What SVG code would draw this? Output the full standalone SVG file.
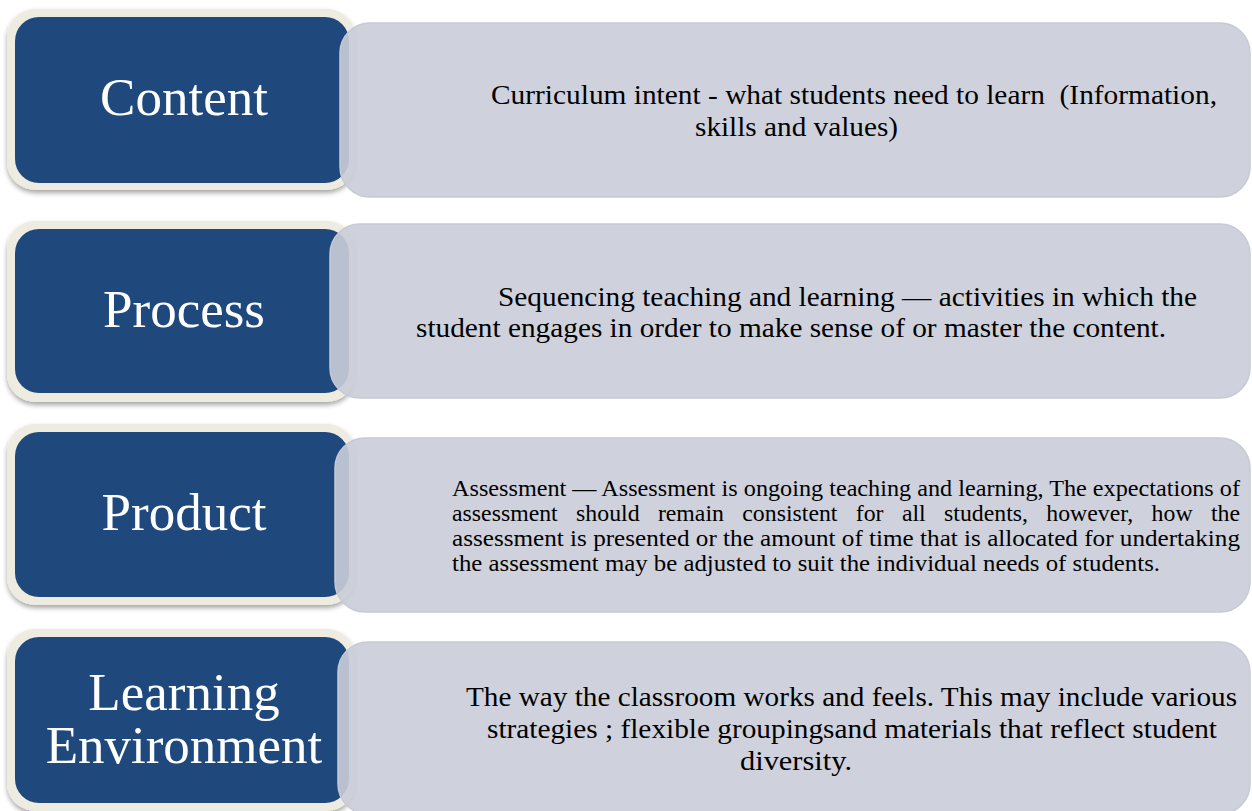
<svg xmlns="http://www.w3.org/2000/svg" width="1252" height="811" viewBox="0 0 1252 811">
<defs>
<filter id="sh" x="-10%" y="-10%" width="120%" height="130%">
<feDropShadow dx="0" dy="3" stdDeviation="2.5" flood-color="#000" flood-opacity="0.35"/>
</filter>
<style>
.cream{fill:#EEEBE0;}
.blue{fill:#1F497D;}
.grey{fill:#CACDD8;fill-opacity:0.9;stroke:#C6CAD5;stroke-width:1.5;}
.lbl{font-family:"Liberation Serif","Times New Roman",serif;font-size:53px;fill:#FFFFFF;text-anchor:middle;}
.txt{font-family:"Liberation Serif","Times New Roman",serif;font-size:28px;fill:#000000;}
.sm{font-family:"Liberation Serif","Times New Roman",serif;font-size:23px;fill:#000000;}
</style>
</defs>
<rect width="1252" height="811" fill="#FFFFFF"/>
<g id="connectors"/>
<g id="content">
<rect class="cream" x="7" y="9" width="348" height="181" rx="28" filter="url(#sh)"/>
<rect class="blue" x="15" y="17" width="334" height="166" rx="24"/>
<rect class="grey" x="340" y="23" width="910" height="174" rx="30"/>
<text class="lbl" x="184" y="115">Content</text>
<text class="txt" x="491" y="104" textLength="726" lengthAdjust="spacingAndGlyphs" xml:space="preserve">Curriculum intent - what students need to learn  (Information,</text>
<text class="txt" x="695" y="136" textLength="203" lengthAdjust="spacingAndGlyphs">skills and values)</text>
</g>
<g id="process">
<rect class="cream" x="7" y="221" width="348" height="181" rx="28" filter="url(#sh)"/>
<rect class="blue" x="15" y="229" width="334" height="164" rx="24"/>
<rect class="grey" x="330" y="224" width="920" height="174" rx="30"/>
<text class="lbl" x="184" y="327">Process</text>
<text class="txt" x="498" y="306" textLength="699" lengthAdjust="spacingAndGlyphs">Sequencing teaching and learning — activities in which the</text>
<text class="txt" x="416" y="337" textLength="750" lengthAdjust="spacingAndGlyphs">student engages in order to make sense of or master the content.</text>
</g>
<g id="product">
<rect class="cream" x="7" y="424" width="348" height="181" rx="28" filter="url(#sh)"/>
<rect class="blue" x="15" y="432" width="334" height="165" rx="24"/>
<rect class="grey" x="335" y="438" width="915" height="174" rx="30"/>
<text class="lbl" x="184" y="530">Product</text>
<text class="sm" x="452" y="496" textLength="788" lengthAdjust="spacingAndGlyphs">Assessment — Assessment is ongoing teaching and learning, The expectations of</text>
<text class="sm" x="452" y="521" textLength="788" lengthAdjust="spacingAndGlyphs" word-spacing="12">assessment should remain consistent for all students, however, how the</text>
<text class="sm" x="452" y="546" textLength="788" lengthAdjust="spacingAndGlyphs">assessment is presented or the amount of time that is allocated for undertaking</text>
<text class="sm" x="452" y="571" textLength="708" lengthAdjust="spacingAndGlyphs">the assessment may be adjusted to suit the individual needs of students.</text>
</g>
<g id="learning-environment">
<rect class="cream" x="7" y="629" width="348" height="182" rx="28" filter="url(#sh)"/>
<rect class="blue" x="15" y="637" width="334" height="166" rx="24"/>
<rect class="grey" x="338" y="642" width="912" height="172" rx="30"/>
<text class="lbl" x="184" y="710">Learning</text>
<text class="lbl" x="184" y="763">Environment</text>
<text class="txt" x="466" y="706" textLength="771" lengthAdjust="spacingAndGlyphs">The way the classroom works and feels. This may include various</text>
<text class="txt" x="487" y="738" textLength="730" lengthAdjust="spacingAndGlyphs">strategies ; flexible groupingsand materials that reflect student</text>
<text class="txt" x="740" y="770" textLength="112" lengthAdjust="spacingAndGlyphs">diversity.</text>
</g>
</svg>
